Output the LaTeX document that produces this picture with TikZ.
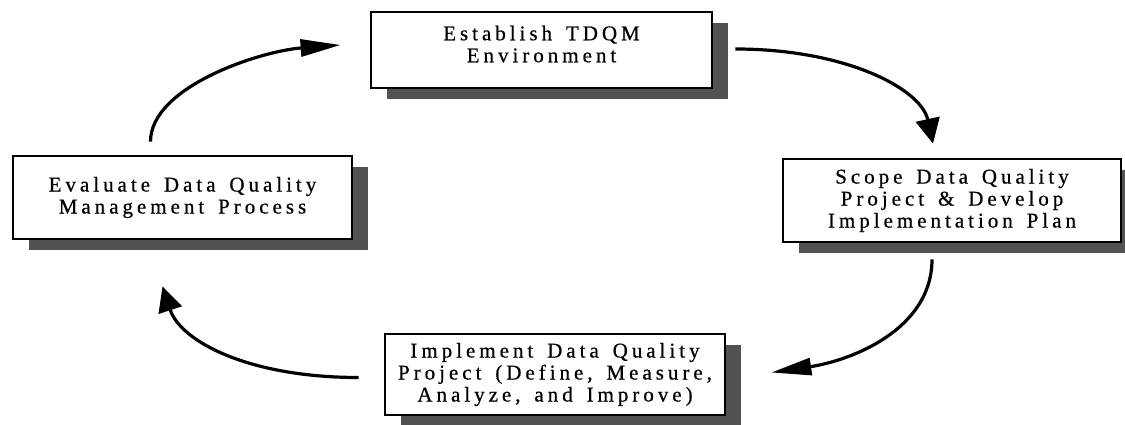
\documentclass[tikz,border=0pt]{standalone}
\usepackage{fontspec}
\setmainfont{Liberation Serif}
\newfontfamily\spacedfont[LetterSpace=19,WordSpace=1.5,FakeBold=0.6]{Liberation Serif}
\usetikzlibrary{arrows.meta,shadows}
\tikzset{
  stagebox/.style={draw=black, line width=2.8pt, fill=white, align=center,
    font=\spacedfont\fontsize{21}{22}\selectfont, inner sep=0pt,
    drop shadow={shadow xshift=16pt, shadow yshift=-11pt, fill=black!68, opacity=1}},
  longarrow/.style={line width=3.2pt, -{Triangle[length=40pt,width=17pt]}},
  shortarrow/.style={line width=3.2pt, -{Triangle[length=25pt,width=24pt]}}
}
\begin{document}
\begin{tikzpicture}[x=1pt,y=1pt]
\useasboundingbox (0,0) rectangle (1125,-425);
\node[stagebox, minimum width=341pt, minimum height=76pt] (est) at (541.5,-50)
  {Establish TDQM\\Environment\rule[-12pt]{0pt}{1pt}};
\node[stagebox, minimum width=339pt, minimum height=83pt] (eval) at (182.5,-197.5)
  {Evaluate Data Quality\\Management Process};
\node[stagebox, minimum width=338pt, minimum height=83pt] (scope) at (952,-200.5)
  {Scope Data Quality\\Project \& Develop\\Implementation Plan};
\node[stagebox, minimum width=340pt, minimum height=81pt] (impl) at (555,-374.5)
  {Implement Data Quality\\Project (Define, Measure,\\Analyze, and Improve)};
% arrows
\draw[longarrow] ([shift={(-32pt,13pt)}]eval.north)
  .. controls +(0,55) and +(-80,-6) .. ([shift={(-29pt,5pt)}]est.west);
\draw[shortarrow] ([shift={(22pt,1pt)}]est.east)
  .. controls +(110,0) and +(-12,55) .. ([shift={(-19pt,14pt)}]scope.north);
\draw[longarrow] ([shift={(-20pt,-16pt)}]scope.south)
  .. controls +(0,-70) and +(80,12) .. ([shift={(45pt,2pt)}]impl.east);
\draw[shortarrow] ([shift={(-25pt,-3pt)}]impl.west)
  .. controls +(-110,0) and +(18,-55) .. ([shift={(-20pt,-46pt)}]eval.south);
\end{tikzpicture}
\end{document}
